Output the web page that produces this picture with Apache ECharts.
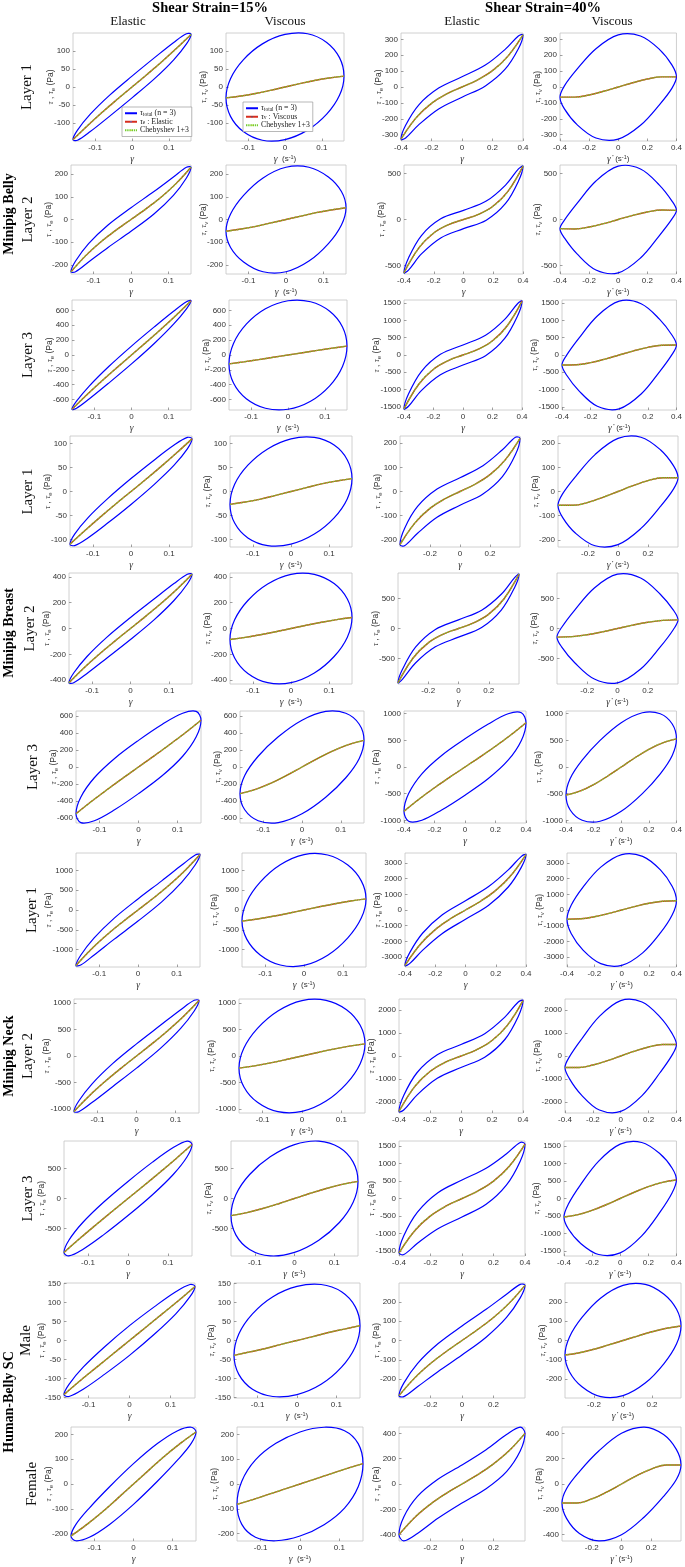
<!DOCTYPE html>
<html><head><meta charset="utf-8">
<script src="https://cdn.jsdelivr.net/npm/echarts@6/dist/echarts.min.js"></script>
<style>html,body{margin:0;padding:0;background:#fff}#c{width:685px;height:1567px}</style>
</head><body><div id="c"></div>
<script>
// ---------------- DATA ----------------
const columnTitles = ['Shear Strain=15%', 'Shear Strain=40%'];
const panelTitles = ['Elastic', 'Viscous', 'Elastic', 'Viscous'];
const groupLabels = ['Minipig Belly', 'Minipig Breast', 'Minipig Neck', 'Human-Belly SC'];
const rowLabels = ['Layer 1','Layer 2','Layer 3','Layer 1','Layer 2','Layer 3','Layer 1','Layer 2','Layer 3','Male','Female'];

// strain and strain-rate at 16 phase points of one cycle
const strain15 = [0, 0.0612, 0.1131, 0.1478, 0.16, 0.1478, 0.1131, 0.0612, 0, -0.0612, -0.1131, -0.1478, -0.16, -0.1478, -0.1131, -0.0612];
const rate15   = [0.16, 0.1478, 0.1131, 0.0612, 0, -0.0612, -0.1131, -0.1478, -0.16, -0.1478, -0.1131, -0.0612, 0, 0.0612, 0.1131, 0.1478];
const strain40 = [0, 0.1531, 0.2828, 0.3696, 0.4, 0.3696, 0.2828, 0.1531, 0, -0.1531, -0.2828, -0.3696, -0.4, -0.3696, -0.2828, -0.1531];
const rate40   = [0.4, 0.3696, 0.2828, 0.1531, 0, -0.1531, -0.2828, -0.3696, -0.4, -0.3696, -0.2828, -0.1531, 0, 0.1531, 0.2828, 0.3696];
const curveX15 = [-0.16, -0.12, -0.08, -0.04, 0, 0.04, 0.08, 0.12, 0.16];
const curveX40 = [-0.4, -0.3, -0.2, -0.1, 0, 0.1, 0.2, 0.3, 0.4];

// total stress (Pa) at the 16 phase points, 15% strain
const totalStress15 = [
  [30, 81, 123, 147, 145, 119, 75, 23, -30, -81, -123, -147, -145, -119, -75, -23],
  [52, 123, 187, 230, 230, 183, 106, 24, -52, -123, -187, -230, -230, -183, -106, -24],
  [120, 378, 589, 717, 730, 622, 415, 155, -120, -378, -589, -717, -730, -622, -415, -155],
  [27, 66, 97, 113, 110, 89, 55, 15, -27, -66, -97, -113, -110, -89, -55, -15],
  [85, 228, 348, 420, 420, 345, 217, 67, -85, -228, -348, -420, -420, -345, -217, -67],
  [312, 501, 629, 651, 548, 354, 126, -100, -312, -501, -629, -651, -548, -354, -126, 100],
  [280, 736, 1135, 1390, 1400, 1143, 704, 205, -280, -736, -1135, -1390, -1400, -1143, -704, -205],
  [230, 581, 877, 1055, 1050, 853, 523, 145, -230, -581, -877, -1055, -1050, -853, -523, -145],
  [285, 607, 850, 958, 900, 697, 401, 63, -285, -607, -850, -958, -900, -697, -401, -63],
  [39, 89, 128, 147, 142, 115, 70, 17, -39, -89, -128, -147, -142, -115, -70, -17],
  [82, 163, 215, 229, 210, 164, 97, 11, -82, -163, -215, -229, -210, -164, -97, -11]
];
// total stress (Pa) at the 16 phase points, 40% strain
const totalStress40 = [
  [64, 138, 237, 321, 328, 241, 112, 7, -64, -138, -237, -321, -328, -241, -112, -7],
  [100, 201, 376, 552, 582, 420, 175, -7, -100, -201, -376, -552, -582, -420, -175, 7],
  [290, 571, 1030, 1482, 1556, 1129, 479, -19, -290, -571, -1030, -1482, -1556, -1129, -479, 19],
  [57, 107, 173, 225, 220, 153, 62, -10, -57, -107, -173, -225, -220, -153, -62, 10],
  [145, 307, 574, 847, 910, 680, 309, 16, -145, -307, -574, -847, -910, -680, -309, -16],
  [528, 806, 998, 1017, 830, 498, 127, -217, -528, -806, -998, -1017, -830, -498, -127, 217],
  [590, 1494, 2553, 3418, 3530, 2731, 1464, 306, -590, -1494, -2553, -3418, -3530, -2731, -1464, -306],
  [500, 976, 1697, 2359, 2420, 1728, 721, -51, -500, -976, -1697, -2359, -2420, -1728, -721, 51],
  [530, 869, 1284, 1608, 1560, 1072, 393, -165, -530, -869, -1284, -1608, -1560, -1072, -393, 165],
  [75, 161, 239, 290, 285, 220, 119, 17, -75, -161, -239, -290, -285, -220, -119, -17],
  [150, 271, 390, 449, 400, 260, 98, -37, -150, -271, -390, -449, -400, -260, -98, 37]
];
// elastic stress vs strain (at curveX), 15%
const elastic15 = [
  [-145, -106, -69, -34, 0, 34, 69, 106, 145],
  [-230, -158, -98, -47, 0, 47, 98, 158, 230],
  [-730, -534, -350, -173, 0, 173, 350, 534, 730],
  [-110, -81, -53, -26, 0, 26, 53, 81, 110],
  [-420, -302, -195, -96, 0, 96, 195, 302, 420],
  [-548, -402, -264, -130, 0, 130, 264, 402, 548],
  [-1400, -984, -625, -303, 0, 303, 625, 984, 1400],
  [-1050, -748, -480, -234, 0, 234, 480, 748, 1050],
  [-900, -665, -439, -218, 0, 218, 439, 665, 900],
  [-142, -105, -70, -35, 0, 35, 70, 105, 142],
  [-210, -164, -113, -57, 0, 57, 113, 164, 210]
];
// viscous stress vs strain rate (at curveX), 15%
const viscous15 = [
  [-30, -25, -18, -9.4, 0, 9.4, 18, 25, 30],
  [-52, -42, -30, -15, 0, 15, 30, 42, 52],
  [-120, -92, -62, -31, 0, 31, 62, 92, 120],
  [-27, -22, -16, -8, 0, 8, 16, 22, 27],
  [-85, -69, -48, -25, 0, 25, 48, 69, 85],
  [-312, -263, -189, -99, 0, 99, 189, 263, 312],
  [-280, -226, -159, -82, 0, 82, 159, 226, 280],
  [-230, -186, -130, -67, 0, 67, 130, 186, 230],
  [-285, -235, -167, -87, 0, 87, 167, 235, 285],
  [-39, -30, -21, -10, 0, 10, 21, 30, 39],
  [-82, -63, -42, -21, 0, 21, 42, 63, 82]
];
// elastic stress vs strain, 40%
const elastic40 = [
  [-328, -193, -103, -44, 0, 44, 103, 193, 328],
  [-582, -310, -147, -55, 0, 55, 147, 310, 582],
  [-1556, -846, -411, -160, 0, 160, 411, 846, 1556],
  [-220, -130, -70, -30, 0, 30, 70, 130, 220],
  [-910, -495, -241, -94, 0, 94, 241, 495, 910],
  [-830, -600, -389, -191, 0, 191, 389, 600, 830],
  [-3530, -2195, -1248, -559, 0, 559, 1248, 2195, 3530],
  [-2420, -1349, -678, -272, 0, 272, 678, 1349, 2420],
  [-1560, -924, -499, -214, 0, 214, 499, 924, 1560],
  [-285, -193, -119, -57, 0, 57, 119, 193, 285],
  [-400, -264, -159, -74, 0, 74, 159, 264, 400]
];
// viscous stress vs strain rate, 40%
const viscous40 = [
  [-64, -64, -50, -27, 0, 27, 50, 64, 64],
  [-100, -103, -82, -45, 0, 45, 82, 103, 100],
  [-290, -283, -220, -119, 0, 119, 220, 283, 290],
  [-57, -57, -45, -24, 0, 24, 45, 57, 57],
  [-145, -137, -104, -56, 0, 56, 104, 137, 145],
  [-528, -454, -330, -173, 0, 173, 330, 454, 528],
  [-590, -561, -430, -232, 0, 232, 430, 561, 590],
  [-500, -500, -393, -214, 0, 214, 393, 500, 500],
  [-530, -463, -340, -179, 0, 179, 340, 463, 530],
  [-75, -63, -45, -23, 0, 23, 45, 63, 75],
  [-150, -150, -118, -64, 0, 64, 118, 150, 150]
];
// axis limits and tick labels
const yMax15 = [149, 240, 740, 116, 430, 656, 1440, 1080, 960, 151, 230];
const yMax40 = [340, 595, 1590, 230, 930, 1050, 3630, 2490, 1650, 297, 450];
const yTicks15 = [
  [-100,-50,0,50,100], [-200,-100,0,100,200], [-600,-400,-200,0,200,400,600],
  [-100,-50,0,50,100], [-400,-200,0,200,400], [-600,-400,-200,0,200,400,600],
  [-1000,-500,0,500,1000], [-1000,-500,0,500,1000], [-500,0,500],
  [-150,-100,-50,0,50,100,150], [-200,-100,0,100,200]
];
const yTicks40 = [
  [-300,-200,-100,0,100,200,300], [-500,0,500], [-1500,-1000,-500,0,500,1000,1500],
  [-200,-100,0,100,200], [-500,0,500], [-1000,-500,0,500,1000],
  [-3000,-2000,-1000,0,1000,2000,3000], [-2000,-1000,0,1000,2000], [-1500,-1000,-500,0,500,1000,1500],
  [-200,-100,0,100,200], [-400,-200,0,200,400]
];
const xTicks15 = [-0.1, 0, 0.1];
const xTicks40Full = [-0.4, -0.2, 0, 0.2, 0.4];
const xTicks40Short = [-0.2, 0, 0.2];
const xTicks40Rows = [xTicks40Full, xTicks40Full, xTicks40Full, xTicks40Short, xTicks40Short, xTicks40Full, xTicks40Full, xTicks40Full, xTicks40Full, xTicks40Short, xTicks40Short];

// ---------------- LAYOUT ----------------
const rowTop = [33, 165, 300, 436, 573, 711, 853, 999, 1141, 1283, 1427];
const rowBottom = [141, 274, 410, 547, 684, 823, 967, 1113, 1256, 1398, 1541];
const colLeft = [[73,226,401,560],[71,226,404,560],[72,229,404,562],[70,230,400,558],[69,230,398,557],[76,240,404,566],[76,242,405,567],[74,239,399,565],[64,231,399,564],[64,234,399,565],[71,237,399,562]];
const colRight = [[191,344,523,679],[191,346,523,679],[191,347,522,681],[192,352,520,678],[192,352,519,678],[201,364,526,681],[200,366,526,681],[199,365,523,681],[192,358,525,681],[195,360,525,681],[196,363,525,681]];
const rowLabelX = [27, 28, 28, 28, 30, 33, 32, 28, 28, 26, 32];
const groupLabelY = [214, 633, 1056, 1402];

const SERIF = '"Liberation Serif","DejaVu Serif",serif';
const SANS = '"Liberation Sans","DejaVu Sans",Arial,sans-serif';
const BLUE = '#0000ff', RED = 'rgb(215,45,30)', GREEN = 'rgb(115,205,45)';
const TICKFONT = 8;
const measure = document.createElement('canvas').getContext('2d');
measure.font = TICKFONT + 'px ' + SANS;

const grids = [], xAxes = [], yAxes = [], series = [];

function loopRenderer(xs, ys) {
  return function (params, api) {
    const pts = xs.map((x, i) => api.coord([x, ys[i]]));
    return { type: 'polygon', silent: true,
      shape: { points: pts, smooth: 0.35 },
      style: { fill: 'none', stroke: BLUE, lineWidth: 1.2 } };
  };
}

for (let r = 0; r < 11; r++) {
  for (let c = 0; c < 4; c++) {
    const is40 = c >= 2, isVisc = c % 2 === 1;
    const idx = grids.length;
    const left = colLeft[r][c], right = colRight[r][c];
    grids.push({ left: left, top: rowTop[r], width: right - left, height: rowBottom[r] - rowTop[r],
      show: true, borderColor: '#c4c4c4', borderWidth: 0.8, backgroundColor: '#fff' });
    const xr = is40 ? 0.4 : 0.16;
    const xt = is40 ? xTicks40Rows[r] : xTicks15;
    const ym = is40 ? yMax40[r] : yMax15[r];
    const yt = is40 ? yTicks40[r] : yTicks15[r];
    let xName;
    if (!isVisc) xName = '{g|γ}';
    else if (!is40) xName = '{g|γ}  (s{p|-1})';
    else xName = '{g|γ̇}  (s{p|-1})';
    xAxes.push({ type: 'value', gridIndex: idx, min: -xr, max: xr,
      axisLine: { show: false, onZero: false }, splitLine: { show: false },
      axisTick: { show: true, inside: true, length: 2.5, customValues: xt, lineStyle: { color: '#777', width: 0.7 } },
      axisLabel: { customValues: xt, fontSize: TICKFONT, fontFamily: SANS, color: '#333', margin: 3, formatter: v => String(v) },
      name: xName, nameLocation: 'middle', nameGap: 13, nameMoveOverlap: false,
      nameTextStyle: { fontSize: 8, fontFamily: SANS, color: '#333',
        rich: { g: { fontSize: 9.5, fontFamily: SERIF, fontStyle: 'italic', color: '#333' },
                p: { fontSize: 5.5, verticalAlign: 'top', lineHeight: 6, fontFamily: SANS, color: '#333' } } }
    });
    let maxW = 0;
    yt.forEach(v => { maxW = Math.max(maxW, measure.measureText(String(v)).width); });
    const yName = isVisc ? '{t|τ}, {t|τ}{s|v} (Pa)' : '{t|τ} , {t|τ}{s|e} (Pa)';
    yAxes.push({ type: 'value', gridIndex: idx, min: -ym, max: ym,
      axisLine: { show: false, onZero: false }, splitLine: { show: false },
      axisTick: { show: true, inside: true, length: 2.5, customValues: yt, lineStyle: { color: '#777', width: 0.7 } },
      axisLabel: { customValues: yt, fontSize: TICKFONT, fontFamily: SANS, color: '#333', margin: 3, formatter: v => String(v) },
      name: yName, nameLocation: 'middle', nameRotate: 90, nameGap: maxW + 1, nameMoveOverlap: false,
      nameTextStyle: { fontSize: 8.5, fontFamily: SANS, color: '#333', lineHeight: 11,
        rich: { t: { fontSize: 8.5, fontFamily: SERIF, fontStyle: 'italic', color: '#333', lineHeight: 11 },
                s: { fontSize: 6, verticalAlign: 'bottom', lineHeight: 7, fontFamily: SANS, color: '#333' } } }
    });
    const loopX = isVisc ? (is40 ? rate40 : rate15) : (is40 ? strain40 : strain15);
    const loopY = is40 ? totalStress40[r] : totalStress15[r];
    const cx = is40 ? curveX40 : curveX15;
    const cy = isVisc ? (is40 ? viscous40[r] : viscous15[r]) : (is40 ? elastic40[r] : elastic15[r]);
    const curve = cx.map((x, i) => [x, cy[i]]);
    series.push({ type: 'custom', name: 'total', coordinateSystem: 'cartesian2d', xAxisIndex: idx, yAxisIndex: idx,
      data: [[0, 0]], renderItem: loopRenderer(loopX, loopY), itemStyle: { color: BLUE }, silent: true, clip: false, z: 2 });
    series.push({ type: 'line', name: isVisc ? 'viscous' : 'elastic', xAxisIndex: idx, yAxisIndex: idx,
      data: curve, smooth: 0.4, symbol: 'none', showSymbol: false, silent: true, z: 3,
      lineStyle: { color: RED, width: 1.4 } });
    series.push({ type: 'line', name: 'cheb', xAxisIndex: idx, yAxisIndex: idx,
      data: curve, smooth: 0.4, symbol: 'none', showSymbol: false, silent: true, z: 4,
      lineStyle: { color: GREEN, width: 1.4, type: [1.4, 0.8] } });
  }
}

// ---------------- TEXT ----------------
const graphics = [];
const colTitleX = [210, 543];
columnTitles.forEach((t, i) => graphics.push({ type: 'text', x: colTitleX[i], y: 8,
  style: { text: t, font: 'bold 14.5px ' + SERIF, fill: '#000', textAlign: 'center', textVerticalAlign: 'middle' } }));
const panelTitleX = [128, 285, 462, 612];
panelTitles.forEach((t, i) => graphics.push({ type: 'text', x: panelTitleX[i], y: 22,
  style: { text: t, font: '13px ' + SERIF, fill: '#111', textAlign: 'center', textVerticalAlign: 'middle' } }));
rowLabels.forEach((t, r) => graphics.push({ type: 'text', x: rowLabelX[r], y: (rowTop[r] + rowBottom[r]) / 2, rotation: Math.PI / 2,
  style: { text: t, font: '15px ' + SERIF, fill: '#111', textAlign: 'center', textVerticalAlign: 'middle' } }));
groupLabels.forEach((t, g) => graphics.push({ type: 'text', x: 9, y: groupLabelY[g], rotation: Math.PI / 2,
  style: { text: t, font: 'bold 14px ' + SERIF, fill: '#000', textAlign: 'center', textVerticalAlign: 'middle' } }));

const legendText = {
  total: '{t|τ}{s|total} (n = 3)',
  elastic: '{t|τ}{s|e} : Elastic',
  viscous: '{t|τ}{s|v} : Viscous',
  cheb: 'Chebyshev 1+3'
};
function legendCfg(left, top, names) {
  return { left: left, top: top, orient: 'vertical', itemGap: 0, itemWidth: 12, itemHeight: 2,
    padding: [2, 3, 2, 2], borderColor: '#9a9a9a', borderWidth: 0.7, backgroundColor: '#fff',
    selectedMode: false, z: 10,
    data: names.map(n => n === 'total' ? { name: n, icon: 'rect', itemStyle: { color: BLUE } } : { name: n }),
    formatter: n => legendText[n],
    textStyle: { fontFamily: SERIF, fontSize: 7.8, color: '#222', lineHeight: 8.5, padding: [0, 0, 0, -2],
      rich: { t: { fontSize: 8, fontStyle: 'italic', fontFamily: SERIF, lineHeight: 8.5 },
              s: { fontSize: 5.5, verticalAlign: 'bottom', lineHeight: 6, fontFamily: SERIF } } } };
}

const chart = echarts.init(document.getElementById('c'), null, { renderer: 'canvas' });
chart.setOption({
  animation: false,
  backgroundColor: '#fff',
  grid: grids, xAxis: xAxes, yAxis: yAxes, series: series,
  legend: [legendCfg(122, 107, ['total', 'elastic', 'cheb']), legendCfg(243, 102, ['total', 'viscous', 'cheb'])],
  graphic: graphics
});
</script>
</body></html>
